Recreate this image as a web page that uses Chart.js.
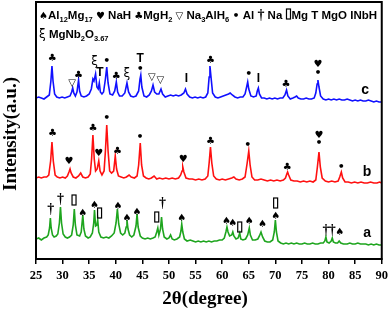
<!DOCTYPE html>
<html>
<head>
<meta charset="utf-8">
<script src="https://cdn.jsdelivr.net/npm/chart.js@4/dist/chart.umd.min.js"></script>
<style>
  html, body { margin: 0; padding: 0; background: #fff; }
</style>
</head>
<body>
<canvas id="xrd" width="392" height="311"></canvas>
<script>
// 2theta (degree), intensity (a.u., offset traces)
const traceA = [
  [25.0,20],[25.5,21],[26.0,19],[26.5,21],[27.0,22],[27.3,24],[27.55,31],[27.7,41],[27.85,31],[28.1,24],
  [28.4,22],[28.8,23],[29.1,25],[29.4,36],[29.6,52],[29.8,36],[30.1,25],[30.5,22],[30.9,21],[31.3,22],
  [31.7,24],[32.0,34],[32.2,50],[32.4,34],[32.7,24],[33.2,23],[33.5,27],[33.8,44],[34.0,30],[34.3,23],
  [34.8,21],[35.2,22],[35.6,26],[35.85,36],[36.0,49],[36.2,33],[36.45,34],[36.6,39],[36.8,27],[37.2,22],
  [37.7,21],[38.2,22],[38.7,21],[39.2,23],[39.7,26],[40.05,36],[40.3,50],[40.55,35],[40.9,26],[41.3,24],
  [41.7,26],[41.95,32],[42.1,39],[42.3,30],[42.6,24],[43.0,22],[43.4,24],[43.8,33],[44.0,45],[44.2,32],
  [44.6,23],[45.0,21],[45.5,20],[46.0,21],[46.5,20],[47.0,21],[47.4,22],[47.7,27],[47.9,31],[48.1,24],
  [48.4,30],[48.6,42],[48.8,30],[49.1,22],[49.6,20],[50.0,21],[50.3,24],[50.6,20],[51.0,19],[51.5,20],
  [52.0,22],[52.25,28],[52.4,35],[52.6,27],[52.9,20],[53.4,18],[54.0,19],[54.5,18],[55.0,17],[55.5,18],
  [56.0,17],[56.5,18],[57.0,17],[57.5,18],[58.0,17],[58.5,18],[59.0,18],[59.5,19],[60.0,19],[60.4,21],
  [60.7,27],[60.9,32],[61.1,27],[61.4,23],[61.8,24],[62.0,27],[62.2,23],[62.6,20],[63.0,21],[63.3,26],
  [63.5,20],[63.9,19],[64.4,20],[64.8,24],[65.1,31],[65.3,24],[65.7,19],[66.2,19],[66.7,20],[67.0,23],
  [67.3,27],[67.6,22],[68.0,18],[68.5,17],[69.0,17],[69.5,19],[69.8,27],[70.0,39],[70.2,27],[70.5,18],
  [71.0,16],[71.5,15],[72.0,16],[72.5,15],[73.0,16],[73.5,15],[74.0,16],[74.5,15],[75.0,15],[75.5,16],
  [76.0,15],[76.5,15],[77.0,16],[77.5,15],[78.0,15],[78.5,16],[79.0,16],[79.3,18],[79.5,22],[79.7,17],
  [80.1,16],[80.5,18],[80.7,21],[80.9,17],[81.3,16],[81.7,16],[82.0,18],[82.3,16],[82.8,15],[83.5,15],
  [84.0,16],[84.5,15],[85.0,15],[85.5,16],[86.0,15],[86.5,15],[87.0,15],[87.5,14],[88.0,15],[88.5,14],
  [89.0,15],[89.5,14],[90.0,14]
];
const traceB = [
  [25.0,81],[25.5,82],[26.0,81],[26.5,82],[27.0,82],[27.4,84],[27.75,98],[28.0,117],[28.25,98],[28.6,84],
  [29.0,82],[29.5,81],[30.0,82],[30.5,81],[30.9,83],[31.2,87],[31.4,90],[31.6,86],[32.0,82],[32.5,81],
  [33.0,83],[33.4,86],[33.8,82],[34.3,81],[34.8,82],[35.2,85],[35.45,100],[35.7,124],[35.95,100],[36.2,88],
  [36.5,90],[36.8,98],[37.05,88],[37.4,84],[37.8,88],[38.05,108],[38.3,134],[38.55,108],[38.85,88],[39.2,86],
  [39.6,88],[39.9,103],[40.15,90],[40.5,83],[41.0,82],[41.5,81],[42.0,82],[42.5,84],[42.9,82],[43.5,81],
  [44.0,83],[44.3,94],[44.6,116],[44.85,94],[45.2,83],[45.7,81],[46.2,80],[46.7,81],[47.2,83],[47.7,80],
  [48.2,81],[48.8,80],[49.4,81],[50.0,80],[50.6,81],[51.2,80],[51.8,81],[52.2,84],[52.45,88],[52.6,92],
  [52.8,87],[53.2,81],[53.8,80],[54.4,80],[55.0,79],[55.6,80],[56.2,79],[56.8,80],[57.3,83],[57.55,96],
  [57.8,112],[58.05,96],[58.4,83],[58.9,80],[59.5,79],[60.0,80],[60.6,79],[61.2,80],[61.8,81],[62.2,82],
  [62.6,80],[63.2,79],[63.8,80],[64.3,82],[64.7,96],[65.0,108],[65.25,94],[65.6,82],[66.1,79],[66.7,79],
  [67.3,80],[67.9,79],[68.5,78],[69.1,79],[69.7,78],[70.3,79],[70.9,78],[71.5,79],[71.9,81],[72.15,85],
  [72.3,87],[72.5,84],[72.9,79],[73.5,78],[74.1,78],[74.7,77],[75.3,78],[75.9,77],[76.5,78],[77.1,77],
  [77.6,79],[77.9,92],[78.2,107],[78.45,92],[78.8,81],[79.4,78],[80.0,77],[80.6,78],[81.2,77],[81.8,78],
  [82.1,82],[82.4,87],[82.65,81],[83.1,77],[83.7,77],[84.3,76],[84.9,77],[85.5,76],[86.1,77],[86.7,76],
  [87.3,76],[87.9,77],[88.5,76],[89.1,76],[89.6,77],[90.0,76]
];
const traceC = [
  [25.0,161],[25.5,162],[26.0,161],[26.5,160],[27.0,162],[27.5,164],[27.8,178],[28.0,193],[28.2,178],[28.5,165],
  [28.9,162],[29.4,161],[29.9,162],[30.4,161],[30.9,162],[31.4,163],[31.7,167],[31.9,171],[32.1,166],[32.4,163],
  [32.7,167],[33.0,179],[33.2,168],[33.5,163],[34.0,162],[34.5,163],[35.0,165],[35.4,170],[35.7,180],[35.9,178],
  [36.2,185],[36.45,172],[36.7,170],[36.9,176],[37.1,167],[37.4,165],[37.7,167],[38.05,180],[38.3,192],[38.55,176],
  [38.9,165],[39.4,164],[39.8,168],[40.1,177],[40.35,167],[40.7,163],[41.2,163],[41.7,166],[42.1,176],[42.4,167],
  [42.8,163],[43.3,162],[43.8,163],[44.3,168],[44.55,180],[44.7,184],[44.9,172],[45.3,163],[45.8,162],[46.3,164],
  [46.7,168],[47.0,174],[47.3,167],[47.7,165],[48.1,165],[48.5,170],[48.8,165],[49.3,162],[49.8,163],[50.3,164],
  [50.8,163],[51.3,164],[51.8,163],[52.3,164],[52.8,166],[53.1,170],[53.4,165],[53.9,162],[54.4,161],[54.9,162],
  [55.4,161],[55.9,162],[56.4,161],[56.9,162],[57.3,166],[57.55,182],[57.7,193],[57.9,182],[58.2,166],[58.7,162],
  [59.2,161],[59.7,162],[60.2,163],[60.7,164],[61.2,165],[61.5,166],[61.9,164],[62.4,162],[62.9,161],[63.4,162],
  [63.9,162],[64.3,165],[64.6,172],[64.8,177],[65.0,170],[65.4,163],[65.9,162],[66.4,163],[66.6,168],[66.8,171],
  [67.0,165],[67.4,161],[67.9,161],[68.4,160],[68.9,161],[69.4,160],[69.9,161],[70.4,160],[70.9,161],[71.4,161],
  [71.8,164],[72.1,169],[72.35,163],[72.8,160],[73.3,161],[73.7,162],[74.0,163],[74.3,161],[74.8,160],[75.3,160],
  [75.8,161],[76.3,160],[76.8,160],[77.3,161],[77.6,166],[77.85,175],[78.0,179],[78.2,172],[78.5,163],[79.0,160],
  [79.5,159],[80.0,160],[80.5,159],[81.0,160],[81.5,159],[82.0,160],[82.5,159],[83.0,159],[83.5,160],[84.0,159],
  [84.5,158],[85.0,159],[85.5,158],[86.0,159],[86.5,158],[87.0,158],[87.5,159],[88.0,158],[88.5,157],[89.0,158],
  [89.5,157],[90.0,157]
];

// phase markers: [symbol, 2theta, height]
const marksA = [
  ['†',27.75,50],['†',29.6,60],['▯',32.15,59],['♠',33.8,46],['♠',36.0,54],['▯',36.95,46],
  ['♠',40.4,53],['♠',42.1,41],['♠',44.0,47],['▯',47.7,42],['†',48.8,56],['♠',52.4,41],
  ['♠',60.8,38],['♠',62.0,36],['▯',63.3,32],['♠',65.1,38],['♠',67.6,35],['▯',70.05,56],
  ['♠',70.05,43],['†',79.5,29],['†',80.7,29],['♠',82.1,27]
];
const marksB = [
  ['♣',28.1,126],['♥',31.2,98],['♣',35.7,131],['♥',36.8,106],['•',38.3,141],['♣',40.3,108],
  ['•',44.55,122],['♥',52.7,100],['♣',57.8,118],['•',64.8,114],['♣',72.25,92],['♥',78.2,124],
  ['•',78.2,116],['•',82.4,92]
];
const marksC = [
  ['♣',28.05,201],['▽',31.8,176],['♣',33.0,184],['ξ',36.0,197],['T',37.0,186],['•',38.3,198],
  ['♣',40.1,183],['ξ',42.1,185],['T',44.6,200],['•',44.6,190],['▽',46.8,182],['▽',48.4,179],
  ['I',53.3,180],['♣',57.8,199],['•',65.0,185],['I',66.8,180],['♣',72.0,175],['♥',78.0,195],
  ['•',78.0,186]
];
const traceLabels = [['a',87.25,26],['b',87.25,87],['c',86.9,169]];
const xTicks = [25,30,35,40,45,50,55,60,65,70,75,80,85,90];

const legendLine1 = [
  ['♠','sym'],['Al',''],['12','sub'],['Mg',''],['17','sub'],[' ',''],['♥','sym'],[' NaH ',''],
  ['♣','sym'],['MgH',''],['2','sub'],[' ',''],['▽','sym'],[' Na',''],['3','sub'],['AlH',''],['6','sub'],[' ',''],
  ['•','sym'],[' Al ',''],['†','sym'],[' Na ',''],['▯','rect'],['Mg ',''],['T',''],[' MgO ',''],['I',''],['NbH','']
];
const legendLine2 = [['ξ','sym'],[' MgNb',''],['2','sub'],['O',''],['3.67','sub']];

function symFont(s) {
  if (s === 'T' || s === 'I') return 'bold 12px "Liberation Sans"';
  if (s === '†') return 'bold 14px "Liberation Serif"';
  if (s === '•') return 'bold 11px "DejaVu Sans"';
  if (s === 'ξ') return '12px "DejaVu Sans"';
  return '10px "DejaVu Sans"';
}

function drawMark(ctx, s, px, py) {
  if (s === '▯') {
    ctx.lineWidth = 1.2;
    ctx.strokeRect(px - 2, py - 5, 4, 10);
    return;
  }
  ctx.font = symFont(s);
  ctx.fillText(s, px, py);
}

function drawRun(ctx, run, x, base) {
  for (const [t, kind] of run) {
    if (kind === 'rect') {
      ctx.lineWidth = 1.2;
      ctx.strokeRect(x + 1, base - 10, 4, 10);
      x += 6;
      continue;
    }
    if (kind === 'sub') {
      ctx.font = 'bold 7.5px "Liberation Sans"';
      ctx.fillText(t, x, base + 3);
    } else if (kind === 'sym') {
      ctx.font = symFont(t);
      ctx.fillText(t, x, base);
    } else {
      ctx.font = 'bold 11.5px "Liberation Sans"';
      ctx.fillText(t, x, base);
    }
    x += ctx.measureText(t).width;
  }
}

const decor = {
  id: 'decor',
  afterDatasetsDraw(chart) {
    const {ctx, chartArea: ca, scales: {x, y}} = chart;
    ctx.save();
    ctx.fillStyle = '#000';
    ctx.strokeStyle = '#000';
    ctx.textAlign = 'center';
    ctx.textBaseline = 'middle';
    for (const list of [marksA, marksB, marksC]) {
      for (const [s, t, h] of list) drawMark(ctx, s, x.getPixelForValue(t), y.getPixelForValue(h));
    }
    ctx.font = 'bold 14px "Liberation Sans"';
    for (const [s, t, h] of traceLabels) ctx.fillText(s, x.getPixelForValue(t), y.getPixelForValue(h));

    // legend
    ctx.textAlign = 'left';
    ctx.textBaseline = 'alphabetic';
    drawRun(ctx, legendLine1, 39, 19);
    drawRun(ctx, legendLine2, 39, 38);

    // frame
    ctx.lineWidth = 2;
    ctx.strokeRect(ca.left, ca.top, ca.right - ca.left, ca.bottom - ca.top);

    // axis titles
    ctx.textAlign = 'center';
    ctx.textBaseline = 'middle';
    ctx.font = 'bold 19px "Liberation Serif"';
    ctx.fillText('2θ(degree)', 205, 299);
    ctx.translate(11, 134);
    ctx.rotate(-Math.PI / 2);
    ctx.font = 'bold 19px "Liberation Serif"';
    ctx.fillText('Intensity(a.u.)', 0, 0);
    ctx.restore();
  }
};

const toXY = arr => arr.map(p => ({x: p[0], y: p[1]}));

new Chart(document.getElementById('xrd'), {
  type: 'line',
  data: {
    datasets: [
      {label: 'a', data: toXY(traceA), borderColor: '#1ea51e', borderWidth: 1.6, pointRadius: 0, tension: 0},
      {label: 'b', data: toXY(traceB), borderColor: '#ff1010', borderWidth: 1.6, pointRadius: 0, tension: 0},
      {label: 'c', data: toXY(traceC), borderColor: '#1010ff', borderWidth: 1.6, pointRadius: 0, tension: 0}
    ]
  },
  options: {
    responsive: false,
    animation: false,
    devicePixelRatio: 1,
    layout: {padding: {left: 36, right: 8, top: 2, bottom: 0}},
    plugins: {legend: {display: false}, tooltip: {enabled: false}},
    scales: {
      x: {
        type: 'linear', min: 25, max: 90,
        afterBuildTicks: s => { s.ticks = xTicks.map(v => ({value: v})); },
        ticks: {color: '#000', font: {family: 'Liberation Serif', weight: 'bold', size: 12.5}, padding: 4, maxRotation: 0, autoSkip: false},
        grid: {display: true, drawOnChartArea: false, drawTicks: true, tickLength: 5, color: '#000', lineWidth: 1.5},
        border: {display: true, color: '#000', width: 2},
        afterFit: s => { s.height = 52; }
      },
      y: {display: false, min: 0, max: 257}
    }
  },
  plugins: [decor]
});
</script>
</body>
</html>
